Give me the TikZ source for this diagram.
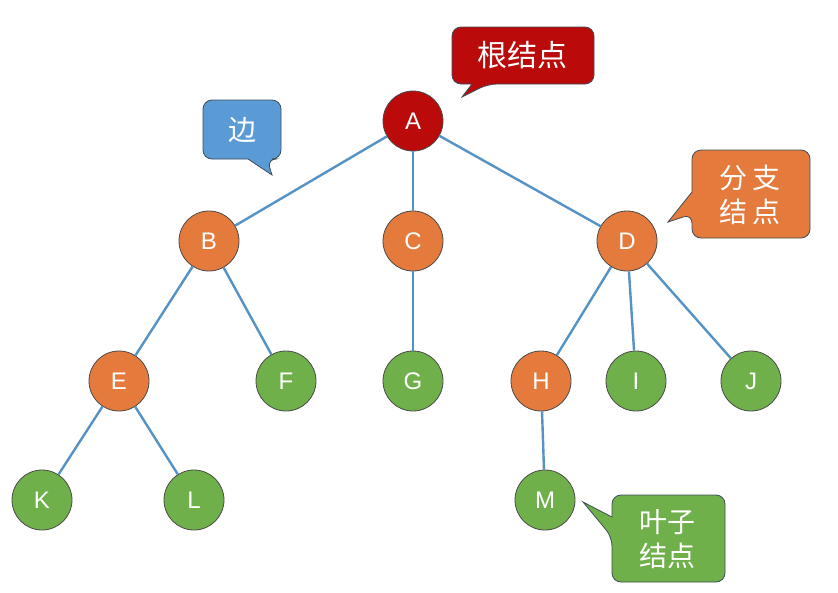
\documentclass[tikz,border=0pt]{standalone}
\usepackage{fontspec}
\setmainfont{Liberation Sans}
\newfontfamily\cjk{Noto Sans CJK SC}
\definecolor{orangeN}{HTML}{E47A3B}
\definecolor{greenN}{HTML}{6FB04A}
\definecolor{redN}{HTML}{BA0A0A}
\definecolor{blueC}{HTML}{5B9BD5}
\definecolor{edgeC}{HTML}{5592C6}
\definecolor{rimC}{HTML}{4A4A4A}
\definecolor{calloutRim}{HTML}{3F4D5C}
\tikzset{
  tnode/.style={circle, minimum size=60pt, inner sep=0pt, draw=rimC, line width=0.8pt,
    text=white, font=\fontsize{24}{24}\selectfont},
  inner/.style={tnode, fill=orangeN},
  leaf/.style={tnode, fill=greenN},
  rootn/.style={tnode, fill=redN},
  edge/.style={draw=edgeC, line width=2.4pt},
  bubble/.style={draw=calloutRim, line width=0.8pt},
  btext/.style={text=white, align=center, inner sep=0pt, font=\cjk\fontsize{28}{34}\selectfont}
}
\begin{document}
\begin{tikzpicture}[x=1pt, y=-1pt]
\useasboundingbox (0,0) rectangle (838,592);
\fill[white] (0,0) rectangle (838,592);
% nodes
\node[rootn] (A) at (413,121) {A};
\node[inner] (B) at (209,241) {B};
\node[inner] (C) at (413,241) {C};
\node[inner] (D) at (627,241) {D};
\node[inner] (E) at (119,381) {E};
\node[leaf] (F) at (286,381) {F};
\node[leaf] (G) at (413,381) {G};
\node[inner] (H) at (541,381) {H};
\node[leaf] (I) at (636,381) {I};
\node[leaf] (J) at (751,381) {J};
\node[leaf] (K) at (42,500) {K};
\node[leaf] (L) at (194,500) {L};
\node[leaf] (M) at (545,500) {M};
% edges
\path[edge] (A) -- (B);
\path[edge] (A) -- (C);
\path[edge] (A) -- (D);
\path[edge] (B) -- (E);
\path[edge] (B) -- (F);
\path[edge] (C) -- (G);
\path[edge] (D) -- (H);
\path[edge] (D) -- (I);
\path[edge] (D) -- (J);
\path[edge] (E) -- (K);
\path[edge] (E) -- (L);
\path[edge] (H) -- (M);
% callout: root
\coordinate (tipRoot) at (462,97);
\path[bubble, fill=redN, rounded corners=9pt]
  (520,27) -- (594,27) -- (594,84) -- (488,84)
  [sharp corners] -- (tipRoot) -- (472,84)
  [rounded corners=9pt] -- (452,84) -- (452,27) -- cycle;
\node[btext, font=\cjk\fontsize{30}{34}\selectfont] (lblRoot) at (522,55) {根结点};
% callout: edge
\coordinate (tipEdge) at (272,175);
\path[bubble, fill=blueC, rounded corners=9pt]
  (240,100) -- (281,100) -- (281,159) -- (267,159)
  [sharp corners] -- (tipEdge) -- (248,159)
  [rounded corners=9pt] -- (203,159) -- (203,100) -- cycle;
\node[btext] (lblEdge) at (242,130) {边};
% callout: branch
\coordinate (tipBranch) at (668,222);
\path[bubble, fill=orangeN, rounded corners=9pt]
  (750,150) -- (810,150) -- (810,238) -- (692,238) -- (692,214)
  [sharp corners] -- (tipBranch) -- (692,192)
  [rounded corners=9pt] -- (692,150) -- cycle;
\node[btext] (lblBranch) at (750,195) {分\,支\\结\,点};
% callout: leaf
\coordinate (tipLeaf) at (583,502);
\path[bubble, fill=greenN, rounded corners=9pt]
  (670,495) -- (725,495) -- (725,582) -- (612,582) -- (612,537)
  [sharp corners] -- (tipLeaf) -- (612,517)
  [rounded corners=9pt] -- (612,495) -- cycle;
\node[btext] (lblLeaf) at (667,539) {叶子\\结点};
\end{tikzpicture}
\end{document}
